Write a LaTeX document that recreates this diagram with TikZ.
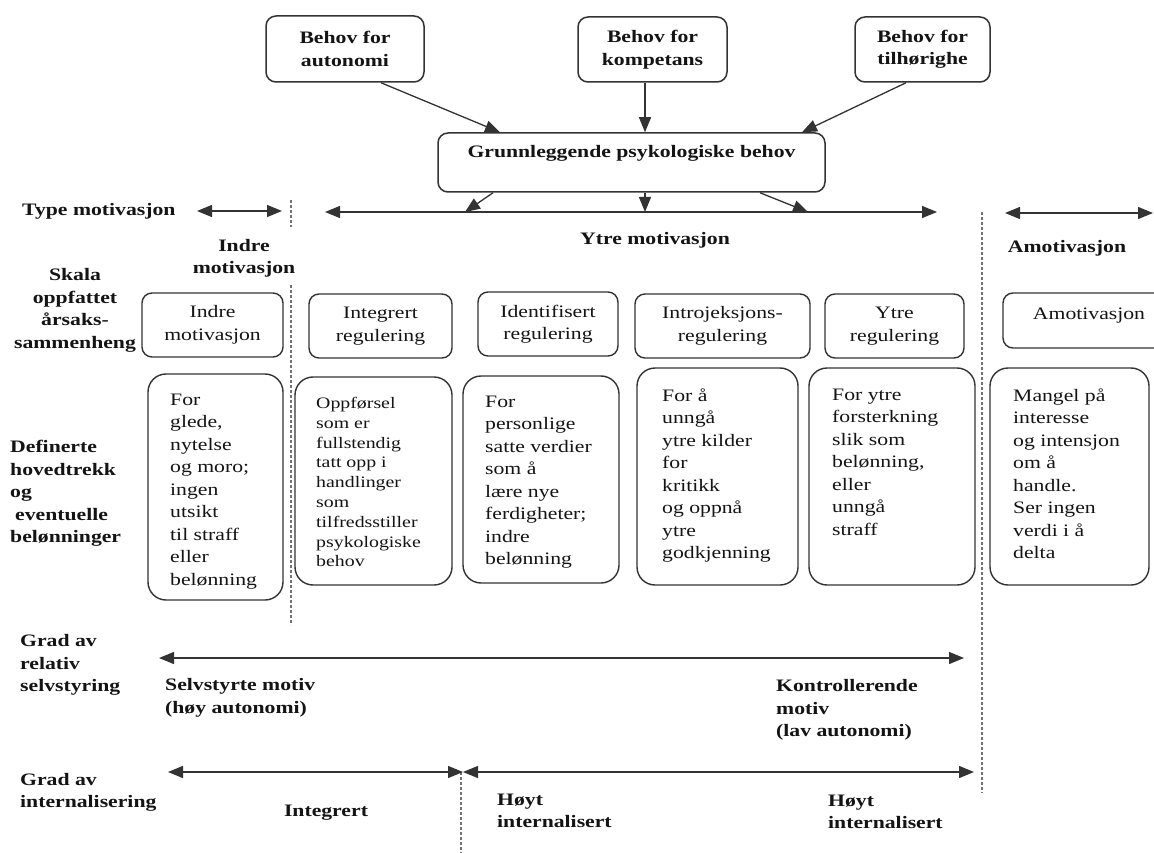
\documentclass[tikz,border=0pt]{standalone}
\usepackage{fontspec}
\setmainfont{Liberation Serif}[FakeStretch=1.24]
\usetikzlibrary{arrows.meta}

\begin{document}
\begin{tikzpicture}[x=1pt,y=-1pt,
  txt/.style={inner sep=0pt, font=\fontsize{17.5}{22.5}\selectfont, text=black!92},
  lbl/.style={txt, font=\fontsize{17.5}{22.5}\selectfont\bfseries},
  needbox/.style={lbl, draw=black!80, line width=1.5pt, rounded corners=10pt, align=center},
  headbox/.style={txt, draw=black!80, line width=1.4pt, rounded corners=10pt, align=center},
  bodybox/.style={draw=black!80, line width=1.4pt, rounded corners=18pt, inner sep=0pt},
  bodytext/.style={txt, align=left, anchor=north west},
  arr/.style={draw=black!80, line width=1.3pt, -{Triangle[length=15pt,width=12pt]}},
  darr/.style={draw=black!80, line width=1.3pt, {Triangle[length=15pt,width=12pt]}-{Triangle[length=15pt,width=12pt]}},
  sep/.style={draw=black!55, line width=1.5pt, dash pattern=on 3pt off 2pt}
]
\useasboundingbox[fill=white] (0,0) rectangle (1154,853);

% basic needs
\node[needbox, minimum width=158pt, minimum height=66pt] (aut) at (345,49) {Behov for\\autonomi};
\node[needbox, minimum width=149pt, minimum height=65pt] (komp) at (652.5,49.5) {Behov for\\kompetans};
\node[needbox, minimum width=135pt, minimum height=65pt] (til) at (922.5,49.5) {Behov for\\tilhørighe};
\node[needbox, minimum width=387pt, minimum height=59pt] (grunn) at (631.5,162.5) {Grunnleggende psykologiske behov\\\mbox{}};

\draw[arr] ([xshift=36pt]aut.south) -- ([xshift=-131.5pt]grunn.north);
\draw[arr] ([xshift=-7.5pt]komp.south) -- ([xshift=13.5pt]grunn.north);
\draw[arr] ([xshift=-16.5pt]til.south) -- ([xshift=170.5pt]grunn.north);

\coordinate (d1) at (465,212);
\coordinate (d2) at (645,212);
\coordinate (d3) at (808,212);
\draw[arr] ([xshift=-138.5pt]grunn.south) -- (d1);
\draw[arr] ([xshift=13.5pt]grunn.south) -- (d2);
\draw[arr] ([xshift=128.5pt]grunn.south) -- (d3);

% type of motivation
\node[lbl, anchor=west] (typem) at (22,211) {Type motivasjon};
\coordinate (ty1) at (197,211);
\coordinate (ty2) at (282,211);
\coordinate (ty3) at (325,212);
\coordinate (ty4) at (937,212);
\coordinate (ty5) at (1005,213);
\coordinate (ty6) at (1153,213);
\draw[darr] (ty1) -- (ty2);
\draw[darr] (ty3) -- (ty4);
\draw[darr] (ty5) -- (ty6);

\node[lbl, align=center] (indrem) at (244,258.5) {Indre\\motivasjon};
\node[lbl] (ytrem) at (655,240) {Ytre motivasjon};
\node[lbl] (amotm) at (1067,248) {Amotivasjon};

% dashed separators
\draw[sep] (291,200) -- (291,227);
\draw[sep] (291,285) -- (291,625);
\draw[sep] (982,212) -- (982,793);
\draw[sep] (461,772) -- (461,853);

% row labels
\node[lbl, align=center] (skala) at (75,310.5) {Skala\\oppfattet\\årsaks-\\sammenheng};
\node[lbl, align=left, anchor=west] (defin) at (10,493.5) {Definerte\\hovedtrekk\\og\\\hspace*{5pt}eventuelle\\belønninger};

% regulation types
\node[headbox, minimum width=141pt, minimum height=64pt] (h1) at (212.5,325) {Indre\\motivasjon};
\node[headbox, minimum width=143pt, minimum height=64pt] (h2) at (380.5,326) {Integrert\\regulering};
\node[headbox, minimum width=140pt, minimum height=64pt] (h3) at (548,324) {Identifisert\\regulering};
\node[headbox, minimum width=175pt, minimum height=64pt] (h4) at (722.5,326) {Introjeksjons-\\regulering};
\node[headbox, minimum width=139pt, minimum height=64pt] (h5) at (894.5,326) {Ytre\\regulering};
\node[headbox, minimum width=172pt, minimum height=55pt, text depth=14pt] (h6) at (1089,320.5) {Amotivasjon};

% characteristics
\node[bodybox, minimum width=135pt, minimum height=226pt] (b1) at (215.5,487) {};
\node[bodybox, minimum width=157pt, minimum height=208pt] (b2) at (373.5,481) {};
\node[bodybox, minimum width=156pt, minimum height=207pt] (b3) at (541,479.5) {};
\node[bodybox, minimum width=161pt, minimum height=217pt] (b4) at (717.5,476.5) {};
\node[bodybox, minimum width=166pt, minimum height=217pt] (b5) at (892,476.5) {};
\node[bodybox, minimum width=159pt, minimum height=217pt] (b6) at (1069.5,476.5) {};

\node[bodytext] (t1) at (170,393.5) {For\\glede,\\nytelse\\og moro;\\ingen\\utsikt\\til straff\\eller\\belønning};
\node[bodytext, font=\fontsize{16}{19.8}\selectfont] (t2) at (316,397) {Oppførsel\\som er\\fullstendig\\tatt opp i\\handlinger\\som\\tilfredsstiller\\psykologiske\\behov};
\node[bodytext] (t3) at (485,395.5) {For\\personlige\\satte verdier\\som å\\lære nye\\ferdigheter;\\indre\\belønning};
\node[bodytext] (t4) at (662,388.5) {For å\\unngå\\ytre kilder\\for\\kritikk\\og oppnå\\ytre\\godkjenning};
\node[bodytext] (t5) at (832,388.5) {For ytre\\forsterkning\\slik som\\belønning,\\eller\\unngå\\straff};
\node[bodytext] (t6) at (1013,388.5) {Mangel på\\interesse\\og intensjon\\om å\\handle.\\Ser ingen\\verdi i å\\delta};

% relative autonomy
\node[lbl, align=left, anchor=west] (gradrel) at (20,665) {Grad av\\relativ\\selvstyring};
\coordinate (r1) at (159,658);
\coordinate (r2) at (964,658);
\draw[darr] (r1) -- (r2);
\node[lbl, align=left, anchor=west] (selv) at (165,698) {Selvstyrte motiv\\(høy autonomi)};
\node[lbl, align=left, anchor=west] (kontr) at (776,710) {Kontrollerende\\motiv\\(lav autonomi)};

% internalisation
\node[lbl, align=left, anchor=west] (gradint) at (20,792.5) {Grad av\\internalisering};
\coordinate (i1) at (168,772);
\coordinate (i2) at (463,772);
\coordinate (i3) at (974,772);
\draw[darr] (i1) -- (i2);
\draw[darr] (i2) -- (i3);
\node[lbl] (integ) at (326,813) {Integrert};
\node[lbl, align=left, anchor=west] (hoyt1) at (497,811) {Høyt\\internalisert};
\node[lbl, align=left, anchor=west] (hoyt2) at (828,812) {Høyt\\internalisert};
\end{tikzpicture}
\end{document}
